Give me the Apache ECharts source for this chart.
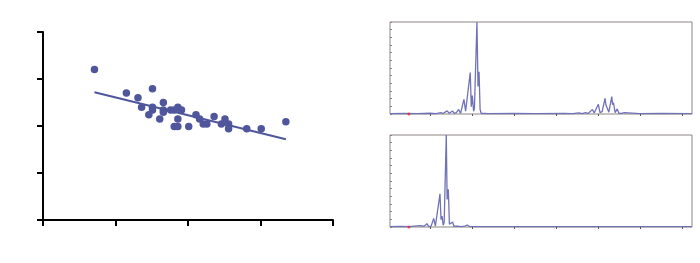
<!DOCTYPE html>
<html>
<head>
<meta charset="utf-8">
<script src="https://cdn.jsdelivr.net/npm/echarts@6/dist/echarts.min.js"></script>
<style>html,body{margin:0;padding:0;background:#fff;}#c{width:700px;height:263px;}</style>
</head>
<body>
<div id="c"></div>
<script>
// Scatter panel data
var scatterX = [0.71, 1.15, 1.31, 1.36, 1.51, 1.51, 1.51, 1.46, 1.61, 1.66, 1.66, 1.66, 1.76, 1.81, 1.86, 1.91, 1.86, 1.81, 1.86, 2.01, 2.11, 2.16, 2.21, 2.26, 2.36, 2.46, 2.51, 2.56, 2.56, 2.81, 3.01, 3.35];
var scatterY = [3.20, 2.70, 2.60, 2.40, 2.79, 2.40, 2.34, 2.24, 2.15, 2.50, 2.34, 2.29, 2.34, 2.34, 2.40, 2.34, 2.15, 1.99, 1.99, 1.99, 2.24, 2.15, 2.04, 2.04, 2.20, 2.04, 2.15, 2.04, 1.94, 1.94, 1.94, 2.09];
var fitX = [0.71, 3.35];
var fitY = [2.72, 1.72];
var scatterTicks = [0, 1, 2, 3, 4];

// Spectrum panels data
var spectrumTicks = [100, 200, 300, 400, 500, 600, 700];
var spec1X = [5, 40, 70, 100, 115, 126, 131, 141, 146, 150, 154, 158, 163, 168.5, 173, 176, 181, 185, 188, 196, 198.5, 201, 204, 206, 212, 214.5, 217, 219.5, 222, 240, 300, 350, 420, 440, 455, 462, 471, 477, 487, 491, 495, 501, 505, 510, 517, 519, 521.5, 526, 529, 533, 535, 537, 541, 546, 550, 556, 563, 567, 600, 650, 724];
var spec1Y = [0.4, 0.6, 0.4, 0.8, 0.5, 1.6, 0.5, 3.4, 0.8, 2.5, 3.2, 0.8, 1.5, 5, 0.6, 1, 16, 3, 1.5, 45, 8, 20, 3, 6, 100, 30, 46, 5, 0.8, 0.5, 0.6, 0.4, 0.6, 0.5, 1.3, 0.5, 1.6, 0.5, 5, 1, 1.2, 10.5, 1.5, 2.5, 17, 10, 12, 2, 4, 19, 10, 12.5, 1.5, 5.5, 0.8, 0.6, 1.5, 0.5, 0.5, 0.6, 0.4];
var spec2X = [5, 30, 50, 76, 80, 86, 93, 97, 103, 109, 113, 117, 124, 126.5, 129, 131.5, 134, 139, 141, 143.8, 146.5, 150, 154, 157, 165, 175, 183, 189, 194, 230, 724];
var spec2Y = [0.4, 0.6, 0.4, 1.4, 0.5, 0.8, 3.6, 0.5, 1, 9.4, 1, 2, 36, 8, 12, 2, 5, 100, 30, 41, 3, 1, 5.4, 0.8, 1, 0.5, 1, 2.2, 0.5, 0.4, 0.4];
var markerX = [50];

function pairs(xs, ys) { return xs.map(function (x, i) { return [x, ys[i]]; }); }

var chart = echarts.init(document.getElementById('c'), null, { renderer: 'canvas' });

var specX = function (gi) {
  return {
    type: 'value', gridIndex: gi, min: 5, max: 724, position: 'top',
    axisLine: { show: false }, splitLine: { show: false }, axisLabel: { show: false },
    axisTick: { show: true, inside: true, length: 2, customValues: spectrumTicks, lineStyle: { color: '#555', width: 1 } }
  };
};
var specY = function (gi) {
  return {
    type: 'value', gridIndex: gi, min: 0, max: 100, interval: 50,
    axisLine: { show: false }, splitLine: { show: false }, axisLabel: { show: false },
    axisTick: { show: true, inside: true, length: 2, lineStyle: { color: '#8d8585', width: 1 } },
    minorTick: { show: true, splitNumber: 6, length: 2, lineStyle: { color: '#8d8585', width: 1 } },
    minorSplitLine: { show: false }
  };
};

chart.setOption({
  animation: false,
  backgroundColor: '#ffffff',
  grid: [
    { left: 43, top: 32, width: 290, height: 188, show: false },
    { left: 390, top: 22, width: 302, height: 92, show: true, borderColor: '#8d8585', borderWidth: 1, backgroundColor: 'transparent' },
    { left: 390, top: 135, width: 302, height: 92, show: true, borderColor: '#8d8585', borderWidth: 1, backgroundColor: 'transparent' }
  ],
  xAxis: [
    {
      type: 'value', gridIndex: 0, min: 0, max: 4, interval: 1,
      axisLine: { show: true, lineStyle: { color: '#000', width: 2 } },
      axisTick: { show: true, length: 6, lineStyle: { color: '#000', width: 2 } },
      axisLabel: { show: false }, splitLine: { show: false }
    },
    specX(1), specX(2)
  ],
  yAxis: [
    {
      type: 'value', gridIndex: 0, min: 0, max: 4, interval: 1,
      axisLine: { show: true, lineStyle: { color: '#000', width: 2 } },
      axisTick: { show: true, length: 6, lineStyle: { color: '#000', width: 2 } },
      axisLabel: { show: false }, splitLine: { show: false }
    },
    specY(1), specY(2)
  ],
  series: [
    {
      type: 'line', xAxisIndex: 0, yAxisIndex: 0, data: pairs(fitX, fitY),
      symbol: 'none', lineStyle: { color: '#4f569c', width: 2 }, z: 2
    },
    {
      type: 'scatter', xAxisIndex: 0, yAxisIndex: 0, data: pairs(scatterX, scatterY),
      symbolSize: 7.5, itemStyle: { color: '#4f569c', opacity: 1 }, z: 3
    },
    {
      type: 'line', xAxisIndex: 1, yAxisIndex: 1, data: pairs(spec1X, spec1Y),
      symbol: 'none', lineStyle: { color: '#7072b8', width: 1.3 }, z: 3
    },
    {
      type: 'line', xAxisIndex: 2, yAxisIndex: 2, data: pairs(spec2X, spec2Y),
      symbol: 'none', lineStyle: { color: '#7072b8', width: 1.3 }, z: 3
    },
    {
      type: 'scatter', xAxisIndex: 1, yAxisIndex: 1, data: markerX.map(function (x) { return [x, 0]; }),
      symbolSize: 3, itemStyle: { color: '#e03030' }, z: 4
    },
    {
      type: 'scatter', xAxisIndex: 2, yAxisIndex: 2, data: markerX.map(function (x) { return [x, 0]; }),
      symbolSize: 3, itemStyle: { color: '#e03030' }, z: 4
    }
  ]
});
</script>
</body>
</html>
